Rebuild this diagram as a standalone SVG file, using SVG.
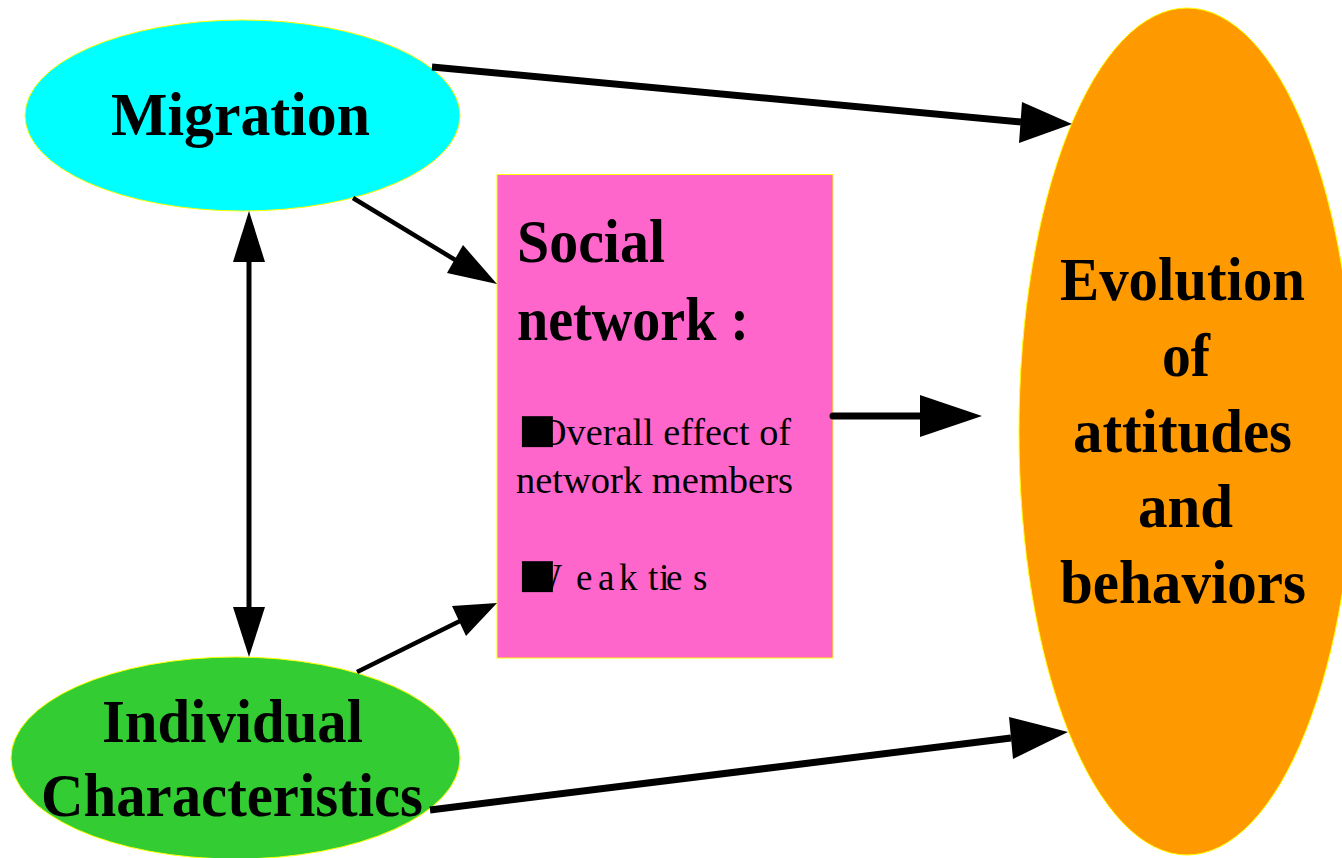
<svg xmlns="http://www.w3.org/2000/svg" width="1342" height="858" viewBox="0 0 1342 858">
<style>
.node{stroke:#FFFF00;stroke-width:1}
.big{font-family:"Liberation Serif","Times New Roman",serif;font-weight:bold;font-size:62px;fill:#000}
.small{font-family:"Liberation Serif","Times New Roman",serif;font-size:37px;fill:#000}
.sq{font-family:"Liberation Serif","DejaVu Sans",serif;font-size:64px;fill:#000}
.thick{stroke:#000;stroke-width:7;fill:none}
.mid{stroke:#000;stroke-width:5;fill:none}
.thin{stroke:#000;stroke-width:4.5;fill:none}
.head{fill:#000;stroke:none}
</style>
<rect width="1342" height="858" fill="#fff"/>
<g id="migration">
<ellipse class="node" cx="242.5" cy="115.5" rx="217.5" ry="95.5" fill="#00FFFF"/>
<text class="big" x="111" y="135" textLength="259" lengthAdjust="spacingAndGlyphs">Migration</text>
</g>
<g id="individual">
<ellipse class="node" cx="235.5" cy="758" rx="224.5" ry="101" fill="#33CC33"/>
<text class="big" x="102" y="742" textLength="261" lengthAdjust="spacingAndGlyphs">Individual</text>
<text class="big" x="41" y="816" textLength="382" lengthAdjust="spacingAndGlyphs">Characteristics</text>
</g>
<g id="social">
<rect class="node" x="497" y="174.5" width="336" height="483.5" fill="#FF66CC"/>
<text class="big" x="517" y="262" textLength="148" lengthAdjust="spacingAndGlyphs">Social</text>
<text class="big" x="517" y="340" textLength="232" lengthAdjust="spacingAndGlyphs">network :</text>
<text class="small" x="539" y="445" textLength="252" lengthAdjust="spacingAndGlyphs">Overall effect of</text>
<text class="sq" x="518" y="451">■</text>
<text class="small" x="516" y="493" textLength="277" lengthAdjust="spacingAndGlyphs">network members</text>
<text class="small" y="590" x="527 576 598 619 640 648 659 666 693">Weak ties</text>
<text class="sq" x="518" y="596">■</text>
</g>
<g id="evolution">
<ellipse class="node" cx="1187" cy="431.5" rx="168" ry="423.5" fill="#FF9900"/>
<text class="big" x="1060" y="300" textLength="245" lengthAdjust="spacingAndGlyphs">Evolution</text>
<text class="big" x="1162" y="376" textLength="48" lengthAdjust="spacingAndGlyphs">of</text>
<text class="big" x="1073" y="452" textLength="219" lengthAdjust="spacingAndGlyphs">attitudes</text>
<text class="big" x="1138" y="527" textLength="95" lengthAdjust="spacingAndGlyphs">and</text>
<text class="big" x="1060" y="603" textLength="246" lengthAdjust="spacingAndGlyphs">behaviors</text>
</g>
<g id="connectors">
<line class="thick" x1="432" y1="67" x2="1021" y2="122"/>
<polygon class="head" points="1022,102 1072,124 1019,143"/>
<line class="thick" x1="430" y1="810" x2="1011" y2="738"/>
<polygon class="head" points="1009,717 1068,732 1013,759"/>
<line class="thin" x1="353" y1="198" x2="457" y2="261"/>
<polygon class="head" points="463,245 497,284 447,273"/>
<line class="thin" x1="357" y1="672" x2="460" y2="621"/>
<polygon class="head" points="452,606 497,603 466,636"/>
<line class="thick" x1="833" y1="416" x2="922" y2="416" stroke-linecap="round"/>
<polygon class="head" points="920,395 982,416 920,437"/>
<line class="mid" x1="249" y1="260" x2="249" y2="609"/>
<polygon class="head" points="233,262 249,211 265,262"/>
<polygon class="head" points="233,607 249,657 265,607"/>
</g>
</svg>
